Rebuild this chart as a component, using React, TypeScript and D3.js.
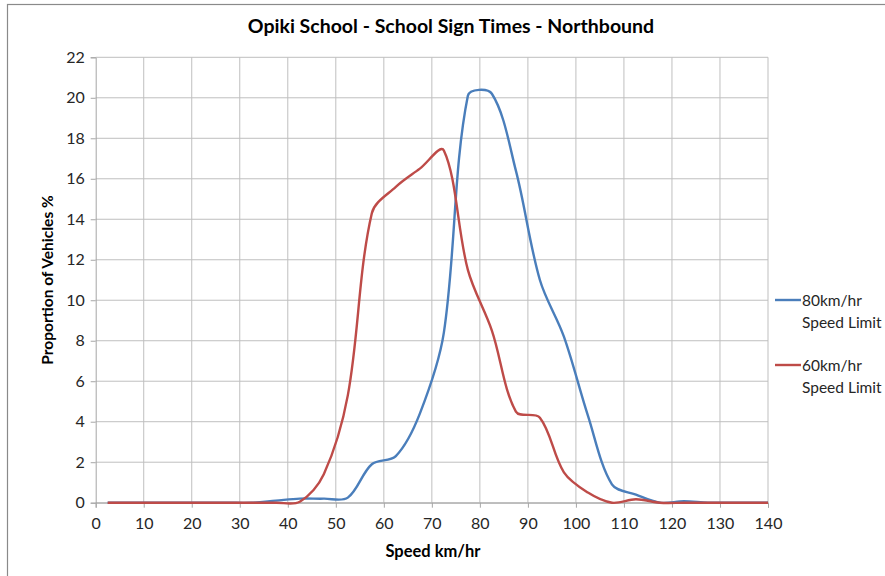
import { useEffect, useRef } from 'react';
import * as d3 from 'd3';

const speeds = [
  2.5, 7.5, 12.5, 17.5, 22.5, 27.5, 32.5, 37.5, 42.5, 47.5, 52.5, 57.5, 62.5, 67.5, 72.5,
  77.5, 82.5, 87.5, 92.5, 97.5, 102.5, 107.5, 112.5, 117.5, 122.5, 127.5, 132.5, 137.5, 140,
];
const limit80 = [
  0, 0, 0, 0, 0, 0, 0, 0.1, 0.2, 0.2, 0.25, 1.9, 2.3, 4.4, 8.4,
  20.1, 20.2, 16.4, 11.0, 8.2, 4.3, 0.9, 0.4, 0, 0.07, 0, 0, 0, 0,
];
const limit60 = [
  0, 0, 0, 0, 0, 0, 0, 0, 0.05, 1.4, 5.3, 14.3, 15.6, 16.5, 17.4,
  11.5, 8.5, 4.5, 4.2, 1.5, 0.5, 0, 0.17, 0, 0, 0, 0, 0, 0,
];
const xTicks = [0, 10, 20, 30, 40, 50, 60, 70, 80, 90, 100, 110, 120, 130, 140];
const yTicks = [0, 2, 4, 6, 8, 10, 12, 14, 16, 18, 20, 22];

const series = [
  { name: ['80km/hr', 'Speed Limit'], values: limit80, color: '#4a7ebb' },
  { name: ['60km/hr', 'Speed Limit'], values: limit60, color: '#be4b48' },
];

const W = 885;
const H = 576;
const FONT = 'Lato, "Open Sans", sans-serif';

// spreadsheet-style smoothing: bezier handles along the neighbour chord,
// scaled by the relative on-screen length of each segment
function smoothPath(pts: [number, number][]) {
  const p = d3.path();
  const dist = (a: [number, number], b: [number, number]) => Math.hypot(b[0] - a[0], b[1] - a[1]);
  const f = 1 / 3;
  p.moveTo(pts[0][0], pts[0][1]);
  for (let i = 0; i < pts.length - 1; i++) {
    const p0 = pts[Math.max(0, i - 1)];
    const p1 = pts[i];
    const p2 = pts[i + 1];
    const p3 = pts[Math.min(pts.length - 1, i + 2)];
    const l0 = dist(p0, p1);
    const l1 = dist(p1, p2);
    const l2 = dist(p2, p3);
    const s1 = l0 + l1 > 0 ? (f * l1) / (l0 + l1) : 0;
    const s2 = l1 + l2 > 0 ? (f * l1) / (l1 + l2) : 0;
    const c1x = p1[0] + (p2[0] - p0[0]) * s1;
    const c1y = p1[1] + (p2[1] - p0[1]) * s1;
    const c2x = p2[0] - (p3[0] - p1[0]) * s2;
    const c2y = p2[1] - (p3[1] - p1[1]) * s2;
    p.bezierCurveTo(c1x, c1y, c2x, c2y, p2[0], p2[1]);
  }
  return p.toString();
}

export default function App() {
  const svgRef = useRef<SVGSVGElement>(null);

  useEffect(() => {
    if (!svgRef.current) return;
    const svg = d3.select(svgRef.current);
    svg.selectAll('*').remove();

    const margin = { top: 57.3, left: 95.7, right: 768, bottom: 502.7 };

    const x = d3.scaleLinear().domain([0, 140]).range([margin.left, margin.right]);
    const y = d3.scaleLinear().domain([0, 22]).range([margin.bottom, margin.top]);

    // chart frame
    svg.append('rect').attr('width', W).attr('height', H).attr('fill', '#fff');
    svg.append('rect')
      .attr('x', 7.5).attr('y', 4.5)
      .attr('width', W + 10).attr('height', H + 10)
      .attr('fill', 'none')
      .attr('stroke', '#8a8a8a')
      .attr('stroke-width', 1.2);

    // gridlines
    svg.append('g')
      .selectAll('line')
      .data(yTicks)
      .join('line')
      .attr('x1', margin.left).attr('x2', margin.right)
      .attr('y1', d => y(d)).attr('y2', d => y(d))
      .attr('stroke', '#bfbfbf').attr('stroke-width', 1);
    svg.append('g')
      .selectAll('line')
      .data(xTicks.slice(1))
      .join('line')
      .attr('x1', d => x(d)).attr('x2', d => x(d))
      .attr('y1', margin.top).attr('y2', margin.bottom)
      .attr('stroke', '#bfbfbf').attr('stroke-width', 1);

    // axes
    const yAxis = d3.axisLeft(y).tickValues(yTicks).tickSize(5).tickPadding(6);
    svg.append('g')
      .attr('transform', `translate(${margin.left},0)`)
      .call(yAxis)
      .call(g => g.select('.domain').attr('stroke', '#a6a6a6'))
      .call(g => g.selectAll('.tick line').attr('stroke', '#a6a6a6'))
      .call(g => g.selectAll('.tick text')
        .attr('fill', '#262626')
        .attr('font-family', FONT)
        .attr('font-size', '16px'));

    const xAxis = d3.axisBottom(x).tickValues(xTicks).tickSize(5).tickPadding(10);
    svg.append('g')
      .attr('transform', `translate(0,${margin.bottom})`)
      .call(xAxis)
      .call(g => g.select('.domain').attr('stroke', '#a6a6a6'))
      .call(g => g.selectAll('.tick line').attr('stroke', '#a6a6a6'))
      .call(g => g.selectAll('.tick text')
        .attr('fill', '#262626')
        .attr('font-family', FONT)
        .attr('font-size', '16px'));

    // lines
    series.forEach(s => {
      const pts = s.values.map((v, i) => [x(speeds[i]), y(v)] as [number, number]);
      svg.append('path')
        .attr('d', smoothPath(pts))
        .attr('fill', 'none')
        .attr('stroke', s.color)
        .attr('stroke-width', 2.4)
        .attr('stroke-linejoin', 'round');
    });

    // titles
    svg.append('text')
      .attr('x', 451).attr('y', 33)
      .attr('text-anchor', 'middle')
      .attr('font-family', FONT)
      .attr('font-weight', 'bold')
      .attr('font-size', '19.5px')
      .attr('fill', '#000')
      .text('Opiki School - School Sign Times - Northbound');

    svg.append('text')
      .attr('x', 433).attr('y', 557)
      .attr('text-anchor', 'middle')
      .attr('font-family', FONT)
      .attr('font-weight', 'bold')
      .attr('font-size', '16.5px')
      .attr('fill', '#000')
      .text('Speed km/hr');

    svg.append('text')
      .attr('transform', `translate(53,280) rotate(-90)`)
      .attr('text-anchor', 'middle')
      .attr('font-family', FONT)
      .attr('font-weight', 'bold')
      .attr('font-size', '15.5px')
      .attr('fill', '#000')
      .text('Proportion of Vehicles %');

    // legend
    const legend = svg.append('g');
    series.forEach((s, i) => {
      const ly = 300 + i * 65;
      legend.append('line')
        .attr('x1', 775).attr('x2', 801)
        .attr('y1', ly).attr('y2', ly)
        .attr('stroke', s.color)
        .attr('stroke-width', 2.4);
      s.name.forEach((t, j) => {
        legend.append('text')
          .attr('x', 802).attr('y', ly + 6 + j * 22)
          .attr('font-family', FONT)
          .attr('font-size', '15.5px')
          .attr('fill', '#262626')
          .text(t);
      });
    });
  }, []);

  return (
    <div style={{ position: 'absolute', left: 0, top: 0, width: W, height: H, overflow: 'hidden' }}>
      <svg ref={svgRef} width={W} height={H} style={{ display: 'block' }} />
    </div>
  );
}
